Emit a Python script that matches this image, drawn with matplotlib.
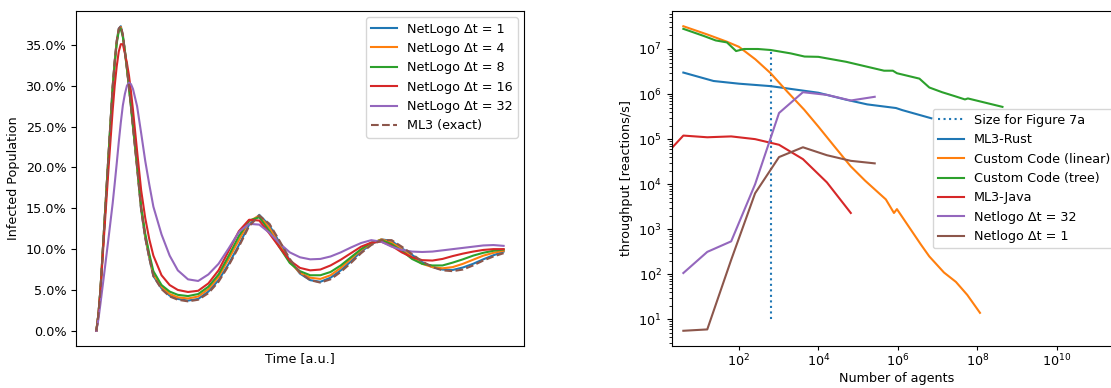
import matplotlib
matplotlib.use("Agg")
import matplotlib.pyplot as plt
from matplotlib.ticker import PercentFormatter, NullLocator

plt.rcParams['font.size'] = 9.2

# ---- left panel: infected population over time (percent) ----
t = [0, 0.5, 1, 2, 3, 4, 4.5, 5, 5.5, 6, 6.5, 7, 7.5, 8, 8.5, 9, 10, 11, 12, 13, 14, 16, 18, 20, 22.5, 25,
     27.5, 30, 32.5, 35, 37.5, 40, 42.5, 45, 47.5, 50, 52.5, 55, 57.5, 60, 62.5,
     65, 67.5, 70, 72.5, 75, 77.5, 80, 82.5, 85, 87.5, 90, 92.5, 95, 97.5, 100]

netlogo_1 = [0, 2.0, 5.0, 13.4, 21.7, 29.9, 33.0, 35.5, 37.0, 37.3, 36.2, 34.2, 32.1, 29.8, 27.4, 24.9,
             20.0, 14.8, 11.4, 8.9, 6.7, 5.2, 4.3, 3.9, 3.7, 3.9,
             4.8, 6.2, 8.2, 10.5, 13.0, 14.2, 12.9, 10.8, 8.6, 7.0, 6.2, 6.0, 6.5, 7.4, 8.5,
             9.7, 10.6, 11.2, 11.0, 10.1, 9.3, 8.4, 7.8, 7.5, 7.45, 7.75, 8.2, 8.75, 9.25, 9.7]
netlogo_4 = [0, 2.0, 5.0, 13.4, 21.6, 29.8, 32.9, 35.4, 36.9, 37.2, 36.1, 34.2, 32.1, 29.9, 27.5, 25.0,
             20.1, 15.0, 11.6, 9.1, 6.9, 5.4, 4.5, 4.1, 3.95, 4.2,
             5.1, 6.6, 8.8, 11.1, 13.4, 14.1, 12.6, 10.5, 8.4, 7.1, 6.5, 6.35, 6.8, 7.7, 8.8,
             9.9, 10.7, 11.2, 10.8, 10.0, 9.0, 8.2, 7.8, 7.65, 7.8, 8.2, 8.7, 9.2, 9.55, 9.8]
netlogo_8 = [0, 2.0, 5.0, 13.3, 21.5, 29.6, 32.7, 35.2, 36.7, 37.0, 36.0, 34.3, 32.2, 30.0, 27.6, 25.2,
             20.3, 15.2, 11.9, 9.4, 7.3, 5.6, 4.8, 4.4, 4.25, 4.5,
             5.4, 6.9, 9.2, 11.6, 13.5, 13.9, 12.2, 10.2, 8.3, 7.3, 6.8, 6.8, 7.2, 8.0, 9.0,
             10.0, 10.8, 11.1, 10.6, 9.8, 8.8, 8.2, 8.0, 8.0, 8.35, 8.75, 9.2, 9.55, 9.8, 9.95]
netlogo_16 = [0, 1.9, 4.8, 12.5, 20.0, 27.0, 30.0, 32.4, 34.2, 35.1, 35.1, 34.0, 32.8, 31.3, 29.3, 27.0,
              22.0, 17.2, 13.8, 11.2, 9.2, 6.8, 5.6, 5.0, 4.75, 4.9,
              5.8, 7.4, 9.8, 12.2, 13.6, 13.5, 11.9, 10.2, 8.6, 7.7, 7.4, 7.5, 8.0, 8.7, 9.5,
              10.3, 10.8, 10.9, 10.4, 9.6, 9.0, 8.65, 8.6, 8.8, 9.15, 9.45, 9.7, 9.9, 10.0, 10.0]
netlogo_32 = [0, 1.4, 3.3, 7.3, 11.4, 15.6, 18.0, 20.5, 23.1, 25.5, 27.6, 29.0, 30.0, 30.4, 30.2, 29.6,
              27.5, 24.2, 20.8, 17.9, 15.2, 11.8, 9.2, 7.4, 6.3, 6.1,
              6.9, 8.2, 10.1, 12.1, 13.1, 13.0, 12.0, 10.7, 9.6, 9.0, 8.75, 8.8, 9.1, 9.6, 10.2,
              10.75, 11.1, 10.9, 10.3, 9.9, 9.7, 9.65, 9.7, 9.85, 10.0, 10.15, 10.3, 10.45, 10.5, 10.4]
ml3_exact = [0, 2.0, 5.0, 13.4, 21.7, 29.9, 33.0, 35.5, 37.0, 37.3, 36.3, 34.3, 32.2, 29.9, 27.5, 25.0,
             20.0, 14.8, 11.4, 8.9, 6.7, 5.1, 4.2, 3.8, 3.6, 3.8,
             4.6, 6.0, 8.0, 10.3, 12.8, 14.1, 13.1, 11.0, 8.8, 7.1, 6.2, 5.9, 6.3, 7.2, 8.3,
             9.5, 10.5, 11.1, 11.1, 10.3, 9.4, 8.5, 7.8, 7.4, 7.3, 7.5, 8.0, 8.6, 9.1, 9.5]

# ---- right panel: throughput vs number of agents ----
fig7a_size = 625
fig7a_range = [10, 1e7]
agent_ticks = [1e2, 1e4, 1e6, 1e8, 1e10]
throughput_ticks = [1e1, 1e2, 1e3, 1e4, 1e5, 1e6, 1e7]

rust_n = [4, 23, 100, 630, 1e4, 5e4, 1.7e5, 9e5, 1.3e6, 7e6]
rust_tp = [3.0e6, 1.95e6, 1.7e6, 1.5e6, 1.07e6, 7.5e5, 5.9e5, 4.9e5, 4.4e5, 2.9e5]

linear_n = [4, 16, 50, 100, 260, 630, 1700, 4400, 1e4, 2.5e4, 6.5e4, 1.5e5, 5e5, 8e5, 9.5e5,
            3.8e6, 6.2e6, 1.45e7, 2.9e7, 5.6e7, 1.17e8]
linear_tp = [3.2e7, 2.1e7, 1.45e7, 1.12e7, 5.9e6, 2.9e6, 1.1e6, 4.5e5, 1.9e5, 7.0e4, 2.5e4, 1.2e4, 4.6e3,
             2.3e3, 2.8e3, 4.6e2, 2.5e2, 1.1e2, 6.8e1, 3.5e1, 1.4e1]

tree_n = [4, 13, 26, 50, 85, 135, 300, 630, 2000, 4500, 1e4, 5e4, 4.5e5, 7.5e5, 9.5e5, 3.5e6,
          6.2e6, 1.3e7, 2.7e7, 4.9e7, 5.8e7, 4.3e8]
tree_tp = [2.8e7, 1.95e7, 1.55e7, 1.4e7, 9.0e6, 1.0e7, 1.0e7, 9.5e6, 8.0e6, 6.8e6, 6.7e6, 5.2e6, 3.3e6,
           3.3e6, 2.9e6, 2.2e6, 1.4e6, 1.1e6, 9.0e5, 7.6e5, 8.0e5, 5.2e5]

java_n = [1, 4, 16, 64, 256, 1024, 4096, 16384, 65536]
java_tp = [3.2e4, 1.2e5, 1.1e5, 1.15e5, 1.0e5, 7.5e4, 3.6e4, 1.1e4, 2.3e3]

nl32_n = [4, 16, 64, 256, 1024, 4096, 16384, 65536, 262144]
nl32_tp = [107, 315, 540, 1.0e4, 3.8e5, 1.1e6, 9.6e5, 7.2e5, 8.7e5]

nl1_n = [4, 16, 64, 256, 1024, 4096, 16384, 65536, 262144]
nl1_tp = [5.6, 6.0, 210, 6.3e3, 4.0e4, 6.6e4, 4.4e4, 3.3e4, 2.9e4]

fig = plt.figure(figsize=(11.11, 3.88), dpi=100)

ax1 = fig.add_axes([76 / 1111, 1 - 346 / 388, 448 / 1111, 335 / 388])
ax1.plot(t, netlogo_1, color='C0', label='NetLogo Δt = 1')
ax1.plot(t, netlogo_4, color='C1', label='NetLogo Δt = 4')
ax1.plot(t, netlogo_8, color='C2', label='NetLogo Δt = 8')
ax1.plot(t, netlogo_16, color='C3', label='NetLogo Δt = 16')
ax1.plot(t, netlogo_32, color='C4', label='NetLogo Δt = 32')
ax1.plot(t, ml3_exact, color='C5', linestyle='--', label='ML3 (exact)')
ax1.yaxis.set_major_formatter(PercentFormatter(xmax=100, decimals=1))
ax1.set_xticks([])
ax1.set_xlabel('Time [a.u.]')
ax1.set_ylabel('Infected Population')
ax1.legend(loc='upper right')

ax2 = fig.add_axes([671.5 / 1111, 1 - 346 / 388, 450 / 1111, 335 / 388])
ax2.vlines(fig7a_size, fig7a_range[0], fig7a_range[1], color='C0', linestyle=':', label='Size for Figure 7a')
ax2.plot(rust_n, rust_tp, color='C0', label='ML3-Rust')
ax2.plot(linear_n, linear_tp, color='C1', label='Custom Code (linear)')
ax2.plot(tree_n, tree_tp, color='C2', label='Custom Code (tree)')
ax2.plot(java_n, java_tp, color='C3', label='ML3-Java')
ax2.plot(nl32_n, nl32_tp, color='C4', label='Netlogo Δt = 32')
ax2.plot(nl1_n, nl1_tp, color='C5', label='Netlogo Δt = 1')
ax2.set_xscale('log')
ax2.set_yscale('log')
ax2.set_xticks(agent_ticks)
ax2.set_yticks(throughput_ticks)
ax2.xaxis.set_minor_locator(NullLocator())
ax2.set_xlim(10 ** 0.304, 10 ** 11.63)
ax2.tick_params(axis='x', which='major', length=3, pad=1.5)
ax2.set_xlabel('Number of agents', labelpad=2)
ax2.set_ylabel('throughput [reactions/s]')
ax2.legend(loc='center right')

plt.savefig('out.png', dpi=100)
